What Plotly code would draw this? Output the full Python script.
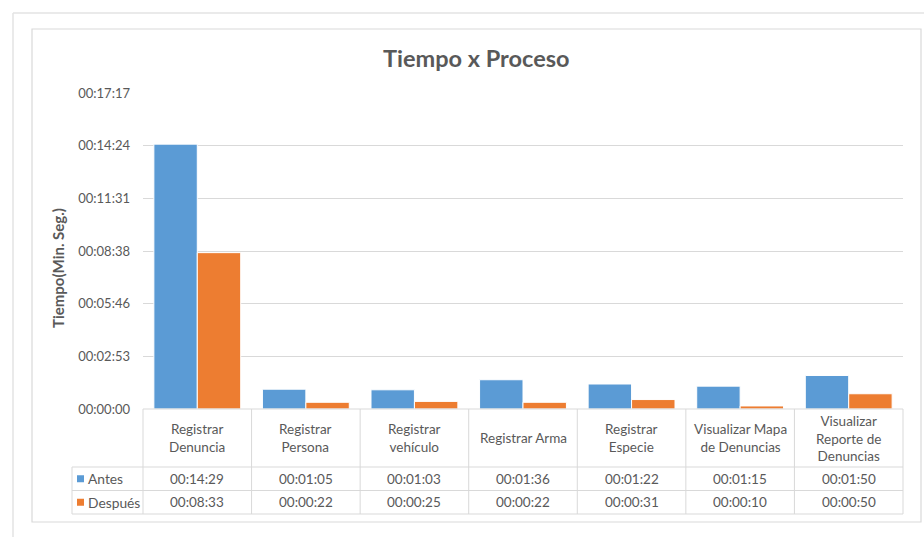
import plotly.graph_objects as go

# Process names (line breaks as shown in the data table header)
categorias = [
    "Registrar<br>Denuncia",
    "Registrar<br>Persona",
    "Registrar<br>vehículo",
    "Registrar Arma",
    "Registrar<br>Especie",
    "Visualizar Mapa<br>de Denuncias",
    "Visualizar<br>Reporte de<br>Denuncias",
]
# Times in seconds
antes_seg = [869, 65, 63, 96, 82, 75, 110]
despues_seg = [513, 22, 25, 22, 31, 10, 50]
series = ["Antes", "Después"]
# Y-axis ticks (seconds) : 0.002-day steps
y_ticks = [0, 172.8, 345.6, 518.4, 691.2, 864.0, 1036.8]


def hms(s):
    s = int(round(s))
    return f"{s // 3600:02d}:{(s % 3600) // 60:02d}:{s % 60:02d}"


AZUL = "#5B9BD5"
NARANJA = "#ED7D31"
TXT = "#595959"
GRID = "#d9d9d9"
FONT = "Lato"

W, H = 924, 537
L, R_EDGE, T, B_EDGE = 143, 903, 93, 409
PW, PH = R_EDGE - L, B_EDGE - T


def px(x):
    return (x - L) / PW


def py(y):
    return (B_EDGE - y) / PH


def label(x, y, text, size=13.5, xanchor="center", **kw):
    return dict(xref="paper", yref="paper", x=px(x), y=py(y), text=text, showarrow=False,
                xanchor=xanchor, yanchor="middle", font=dict(family=FONT, size=size, color=TXT), **kw)


fig = go.Figure()
fig.add_trace(go.Bar(name=series[0], x=list(range(len(categorias))), y=antes_seg,
                     marker=dict(color=AZUL, line=dict(color="white", width=1))))
fig.add_trace(go.Bar(name=series[1], x=list(range(len(categorias))), y=despues_seg,
                     marker=dict(color=NARANJA, line=dict(color="white", width=1))))

shapes = []
annotations = []

# Frames
shapes.append(dict(type="line", xref="paper", yref="paper", x0=px(13), x1=px(924), y0=py(13), y1=py(13),
                   line=dict(color="#e3e3e3", width=1.5)))
shapes.append(dict(type="line", xref="paper", yref="paper", x0=px(13), x1=px(13), y0=py(13), y1=py(537),
                   line=dict(color="#e3e3e3", width=1.5)))
shapes.append(dict(type="rect", xref="paper", yref="paper", x0=px(32), x1=px(921), y0=py(29), y1=py(522),
                   line=dict(color=GRID, width=1.2)))

# Data table
n = len(categorias)
colw = PW / n
row_cat, row_a, row_d = 467, 490.5, 514
tl = dict(color=GRID, width=1)
shapes.append(dict(type="line", xref="paper", yref="paper", x0=px(L), x1=px(R_EDGE), y0=py(B_EDGE), y1=py(B_EDGE), line=tl))
for yy in (row_cat, row_a, row_d):
    shapes.append(dict(type="line", xref="paper", yref="paper", x0=px(72), x1=px(R_EDGE), y0=py(yy), y1=py(yy), line=tl))
shapes.append(dict(type="line", xref="paper", yref="paper", x0=px(72), x1=px(72), y0=py(row_cat), y1=py(row_d), line=tl))
for k in range(n + 1):
    xx = L + k * colw
    shapes.append(dict(type="line", xref="paper", yref="paper", x0=px(xx), x1=px(xx), y0=py(B_EDGE), y1=py(row_d), line=tl))

for k, cat in enumerate(categorias):
    xc = L + (k + 0.5) * colw
    annotations.append(label(xc, (B_EDGE + row_cat) / 2, cat, align="center"))
    annotations.append(label(xc, (row_cat + row_a) / 2, hms(antes_seg[k])))
    annotations.append(label(xc, (row_a + row_d) / 2, hms(despues_seg[k])))

# Legend keys inside the table
for name, col, (y0, y1) in ((series[0], AZUL, (row_cat, row_a)), (series[1], NARANJA, (row_a, row_d))):
    yc = (y0 + y1) / 2
    shapes.append(dict(type="rect", xref="paper", yref="paper", x0=px(77), x1=px(84), y0=py(yc - 3.5), y1=py(yc + 3.5),
                       fillcolor=col, line=dict(width=0)))
    annotations.append(label(86, yc, name, size=13.8, xanchor="left"))

# Title and axis title
annotations.append(label(476, 58, "<b>Tiempo x Proceso</b>", size=23.5))
annotations.append(label(58, 268, "<b>Tiempo(Min. Seg.)</b>", size=15, textangle=-90))

fig.update_layout(
    width=W, height=H,
    margin=dict(l=L, r=W - R_EDGE, t=T, b=H - B_EDGE, pad=0),
    paper_bgcolor="white", plot_bgcolor="white",
    barmode="group", bargap=0.2, bargroupgap=0,
    showlegend=False,
    shapes=shapes, annotations=annotations,
    xaxis=dict(range=[-0.5, n - 0.5], showticklabels=False, showgrid=False, zeroline=False,
               showline=False, ticks="", fixedrange=True),
    yaxis=dict(range=[0, y_ticks[-1]], tickvals=y_ticks, ticktext=[hms(v) for v in y_ticks],
               showgrid=True, gridcolor=GRID, gridwidth=1, zeroline=False, showline=False,
               ticks="", ticklabelstandoff=12,
               tickfont=dict(family=FONT, size=13, color=TXT)),
)

fig.write_html("out.html")
